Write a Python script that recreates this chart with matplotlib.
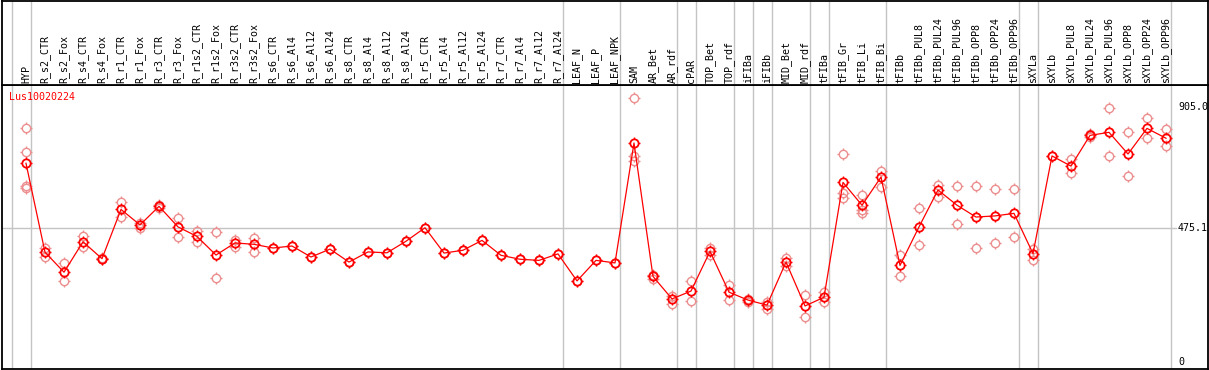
import numpy as np
import matplotlib
matplotlib.use("Agg")
import matplotlib.pyplot as plt
from matplotlib.path import Path
from matplotlib.transforms import blended_transform_factory

# --- data -------------------------------------------------------------------
GENE = "Lus10020224"
labels = ["HYP",
          "R_s2_CTR", "R_s2_Fox", "R_s4_CTR", "R_s4_Fox", "R_r1_CTR", "R_r1_Fox",
          "R_r3_CTR", "R_r3_Fox", "R_r1s2_CTR", "R_r1s2_Fox", "R_r3s2_CTR", "R_r3s2_Fox",
          "R_s6_CTR", "R_s6_Al4", "R_s6_Al12", "R_s6_Al24", "R_s8_CTR", "R_s8_Al4",
          "R_s8_Al12", "R_s8_Al24", "R_r5_CTR", "R_r5_Al4", "R_r5_Al12", "R_r5_Al24",
          "R_r7_CTR", "R_r7_Al4", "R_r7_Al12", "R_r7_Al24",
          "LEAF_N", "LEAF_P", "LEAF_NPK",
          "SAM", "AR_Bet", "AR_rdf",
          "cPAR",
          "TOP_Bet", "TOP_rdf",
          "iFIBa", "iFIBb",
          "MID_Bet", "MID_rdf",
          "tFIBa",
          "tFIB_Gr", "tFIB_Li", "tFIB_Bi",
          "tFIBb", "tFIBb_PUL8", "tFIBb_PUL24", "tFIBb_PUL96", "tFIBb_OPP8",
          "tFIBb_OPP24", "tFIBb_OPP96",
          "sXYLa",
          "sXYLb", "sXYLb_PUL8", "sXYLb_PUL24", "sXYLb_PUL96", "sXYLb_OPP8",
          "sXYLb_OPP24", "sXYLb_OPP96"]
# sizes of the sample groups (separated by grey lines)
group_sizes = [1, 28, 3, 3, 1, 2, 1, 1, 2, 1, 3, 7, 1, 7]

means = [705, 389, 318, 426, 366, 541, 486, 552, 479, 445, 379, 422, 417,
         404, 411, 372, 400, 354, 390, 387, 428, 476, 386, 396, 431, 378, 364, 360, 383,
         287, 360, 351,
         777, 303, 223,
         251,
         392, 247,
         219, 201,
         354, 198,
         229,
         637, 556, 656,
         342, 479, 610, 556, 514, 518, 527,
         384,
         731, 695, 804, 815, 738, 829, 794]

reps = [[829, 744, 624, 618], [403, 373], [350, 286], [448, 409], [370, 366],
        [567, 515], [494, 476], [558, 546], [511, 442], [464, 425], [460, 296],
        [431, 409], [440, 391], [404], [411], [372], [400], [354], [390], [387],
        [428], [476], [386], [396], [431], [378], [364], [360], [383],
        [287], [360], [351],
        [936, 731, 714], [308, 293], [235, 206],
        [286, 216],
        [403, 379], [271, 218],
        [222, 213], [212, 186],
        [367, 340], [237, 158],
        [248, 211],
        [738, 601, 581], [592, 539, 528], [679, 622],
        [378, 306], [545, 415], [628, 586], [623, 489], [623, 403], [614, 421], [614, 443],
        [402, 360],
        [731], [720, 669], [809, 800], [900, 731], [815, 659], [865, 794], [826, 765]]

y_ticks = [0, 475.1, 905.0]
y_tick_labels = ["0", "475.1", "905.0"]

# --- layout (pixel based, figure is 1209x370) --------------------------------
W, H = 1209, 370
fig = plt.figure(figsize=(W / 100, H / 100), dpi=100)
left_px, right_px = 1.5, 1207.5
top_px, head_px, bot_px = 0.5, 85, 368.5

ax = fig.add_axes([left_px / W, (H - bot_px) / H,
                   (right_px - left_px) / W, (bot_px - head_px) / H])
hx = fig.add_axes([left_px / W, (H - head_px) / H,
                   (right_px - left_px) / W, (head_px - top_px) / H], sharex=ax)

# column i sits at pixel 26 + 19*i ; value 0 at pixel 361.7, 3.553 units per pixel
x = np.arange(len(labels))
ax.set_xlim((left_px - 26) / 19, (right_px - 26) / 19)
ax.set_ylim(-(bot_px - 361.7) * 3.553, (361.7 - head_px) * 3.553)
hx.set_ylim(0, 1)

for a in (ax, hx):
    a.set_xticks([])
    a.set_yticks([])
    for s in a.spines.values():
        s.set_color("black")
        s.set_linewidth(1.3)

# group separators
ends = np.cumsum(group_sizes) - 1
seps = [-1 + 0.24] + [e + 0.24 for e in ends]
for s in seps:
    for a in (ax, hx):
        a.axvline(s, color="#c4c4c4", lw=1.0, zorder=0)

# horizontal grid at the middle tick
xmax_frac = (1176 - left_px) / (right_px - left_px)
ax.axhline(y_ticks[1], xmin=0, xmax=xmax_frac, color="#c4c4c4", lw=1.0, zorder=0)

# markers: round circle + four little ticks outside it
tick = Path([(1, 0), (1.45, 0), (-1, 0), (-1.45, 0), (0, 1), (0, 1.45), (0, -1), (0, -1.45)],
            [Path.MOVETO, Path.LINETO] * 4)
circ_ms, tick_ms = 6.0, 6.0 * 1.45

pink = "#ec8e8e"
rx = [i for i, r in enumerate(reps) for _ in r]
ry = [v for r in reps for v in r]
ax.plot(rx, ry, ls="none", marker="o", ms=circ_ms, mfc="none", mec=pink, mew=1.0, zorder=2)
ax.plot(rx, ry, ls="none", marker=tick, ms=tick_ms, mec=pink, mew=1.0, zorder=2)
ax.plot(x, means, color="#ff0000", lw=0.9, zorder=3)
ax.plot(x, means, ls="none", marker="o", ms=circ_ms, mfc="none", mec="#ff0000", mew=1.3, zorder=4)
ax.plot(x, means, ls="none", marker=tick, ms=tick_ms, mec="#ff0000", mew=1.0, zorder=4)

# value labels on the right
ytrans = blended_transform_factory(fig.transFigure, ax.transData)
for v, t in zip(y_ticks, y_tick_labels):
    ax.text(1178 / W, v, t, transform=ytrans, fontsize=7.2, family="DejaVu Sans Mono",
            va="center", ha="left", clip_on=False)

# gene name
fig.text(9 / W, (H - 97) / H, GENE, fontsize=7.2, family="DejaVu Sans Mono",
         color="#ff0000", va="center", ha="left")

# header labels (rotated)
for i, lab in enumerate(labels):
    hx.text(i, 2 / (head_px - top_px), lab, rotation=90, ha="center", va="bottom",
            fontsize=7.2, family="DejaVu Sans Mono")

fig.savefig("out.png", dpi=100)
